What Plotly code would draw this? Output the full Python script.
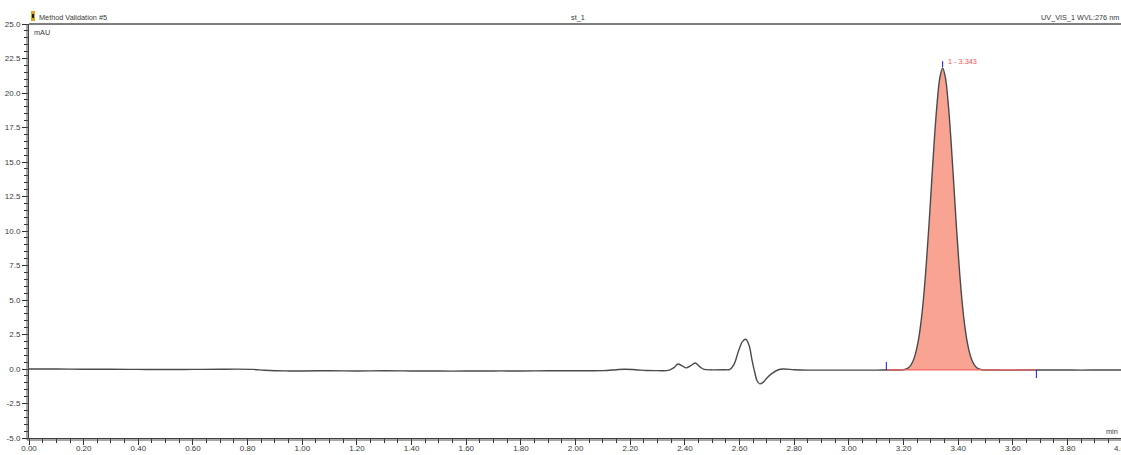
import plotly.graph_objects as go

# Chromatogram trace: retention time (min) and detector signal (mAU)
rt = [
    0.00, 0.10, 0.20, 0.30, 0.40, 0.50, 0.60, 0.70, 0.76, 0.82, 0.86, 0.90,
    0.95, 1.00, 1.10, 1.20, 1.30, 1.40, 1.50, 1.60, 1.70, 1.80, 1.90, 2.00,
    2.10, 2.15, 2.18, 2.22, 2.26, 2.30, 2.34, 2.36, 2.375, 2.39, 2.405, 2.42,
    2.438, 2.455, 2.47, 2.50, 2.54, 2.565, 2.58, 2.597, 2.611, 2.623, 2.635,
    2.645, 2.655, 2.664, 2.674, 2.687, 2.70, 2.72, 2.74, 2.76, 2.80, 2.85,
    2.90, 3.00, 3.10, 3.137, 3.170, 3.199, 3.213, 3.223, 3.233, 3.243, 3.253,
    3.263, 3.273, 3.283, 3.293, 3.303, 3.313, 3.323, 3.333, 3.343, 3.353,
    3.363, 3.373, 3.383, 3.393, 3.403, 3.413, 3.423, 3.433, 3.443, 3.453,
    3.463, 3.473, 3.487, 3.520, 3.560, 3.600, 3.650, 3.686, 3.750, 3.850,
    3.950, 4.000,
]
signal = [
    0.00, 0.00, -0.02, -0.02, -0.03, -0.04, -0.03, -0.02, -0.01, -0.03, -0.09, -0.13,
    -0.14, -0.14, -0.13, -0.14, -0.13, -0.14, -0.15, -0.15, -0.14, -0.14, -0.13, -0.13,
    -0.12, -0.05, -0.02, -0.05, -0.11, -0.12, -0.10, 0.10, 0.36, 0.22, 0.08, 0.22,
    0.43, 0.15, -0.03, -0.06, -0.05, -0.03, 0.35, 1.35, 2.00, 2.15, 1.70,
    0.70, -0.20, -0.85, -1.08, -0.95, -0.65, -0.30, -0.07, 0.00, -0.05, -0.08,
    -0.08, -0.08, -0.08, -0.07, -0.07, -0.05, 0.02, 0.19, 0.51, 1.06, 1.94,
    3.27, 5.13, 7.55, 10.43, 13.63, 16.73, 19.33, 21.13, 21.80, 21.13,
    19.33, 16.73, 13.63, 10.43, 7.55, 5.13, 3.27, 1.94, 1.06, 0.51,
    0.19, 0.02, -0.05, -0.07, -0.08, -0.08, -0.07, -0.07, -0.07, -0.08,
    -0.07, -0.07,
]

# Integrated peak
peak_no = 1
peak_rt = 3.343
peak_height = 21.80
peak_start, peak_end = 3.137, 3.686
peak_base = -0.07

# Axis ticks
x_ticks = [0.00, 0.20, 0.40, 0.60, 0.80, 1.00, 1.20, 1.40, 1.60, 1.80, 2.00,
           2.20, 2.40, 2.60, 2.80, 3.00, 3.20, 3.40, 3.60, 3.80, 4.00]
x_labels = ["0.00", "0.20", "0.40", "0.60", "0.80", "1.00", "1.20", "1.40",
            "1.60", "1.80", "2.00", "2.20", "2.40", "2.60", "2.80", "3.00",
            "3.20", "3.40", "3.60", "3.80", "4.00"]
y_ticks = [-5.0, -2.5, 0.0, 2.5, 5.0, 7.5, 10.0, 12.5, 15.0, 17.5, 20.0, 22.5, 25.0]
y_labels = ["-5.0", "-2.5", "0.0", "2.5", "5.0", "7.5", "10.0", "12.5",
            "15.0", "17.5", "20.0", "22.5", "25.0"]

W, H = 1121, 455
L, R, T, B = 29, 0, 24, 17
PW, PH = W - L - R, H - T - B
PX_PER_MIN = 273.3
X_MAX = PW / PX_PER_MIN
FONT = "Liberation Sans"
TXT = "#3a3a3a"


def px(x):
    return (x - L) / PW


def py(y):
    return (H - B - y) / PH


fig = go.Figure()

# area under the integrated peak
seg_x = [t for t in rt if peak_start <= t <= peak_end]
seg_y = [s for t, s in zip(rt, signal) if peak_start <= t <= peak_end]
fig.add_trace(go.Scatter(x=[peak_start, peak_end], y=[peak_base, peak_base],
                         mode="lines", line=dict(width=0), hoverinfo="skip"))
fig.add_trace(go.Scatter(x=seg_x, y=seg_y, mode="lines", line=dict(width=0, shape="spline"),
                         fill="tonexty", fillcolor="#F9A393", hoverinfo="skip"))

# chromatogram
fig.add_trace(go.Scatter(x=rt, y=signal, mode="lines",
                         line=dict(color="#4a4a4a", width=1.4, shape="spline")))

# integration baseline
fig.add_trace(go.Scatter(x=[peak_start, peak_end], y=[peak_base, peak_base], mode="lines",
                         line=dict(color="#F26565", width=1.2), hoverinfo="skip"))

shapes = [
    # frame: top edge and the doubled left/bottom axis lines
    dict(type="line", xref="paper", yref="paper", x0=0, x1=1, y0=1, y1=1,
         line=dict(color="#000000", width=1)),
    dict(type="line", xref="paper", yref="paper", x0=px(27), x1=px(27), y0=py(440), y1=1,
         line=dict(color="#505050", width=1)),
    dict(type="line", xref="paper", yref="paper", x0=px(27), x1=1, y0=py(440), y1=py(440),
         line=dict(color="#505050", width=1)),
    # peak delimiters and apex marker
    dict(type="line", xref="x", yref="y", x0=peak_start, x1=peak_start,
         ysizemode="pixel", yanchor=peak_base, y0=0, y1=8, line=dict(color="#1010ff", width=1)),
    dict(type="line", xref="x", yref="y", x0=peak_end, x1=peak_end,
         ysizemode="pixel", yanchor=peak_base, y0=0, y1=-8, line=dict(color="#1010ff", width=1)),
    dict(type="line", xref="x", yref="y", x0=peak_rt, x1=peak_rt,
         ysizemode="pixel", yanchor=peak_height, y0=1, y1=7, line=dict(color="#1010ff", width=1)),
    # chromatogram icon
    dict(type="rect", xref="paper", yref="paper", x0=px(31), x1=px(35), y0=py(21), y1=py(11),
         fillcolor="#d9a520", line=dict(width=0)),
    dict(type="rect", xref="paper", yref="paper", x0=px(32), x1=px(34), y0=py(18), y1=py(14),
         fillcolor="#202020", line=dict(width=0)),
]

HEAD = dict(color=TXT, size=7.3, family=FONT)
annotations = [
    dict(text="Method Validation #5", xref="paper", yref="paper", x=px(37), y=1,
         xanchor="left", yanchor="bottom", font=HEAD),
    dict(text="st_1", xref="paper", yref="paper", x=px(578), y=1,
         xanchor="center", yanchor="bottom", font=HEAD),
    dict(text="UV_VIS_1 WVL:276 nm", xref="paper", yref="paper", x=1, y=1,
         xanchor="right", yanchor="bottom", font=HEAD),
    dict(text="mAU", xref="paper", yref="paper", x=px(32), y=1,
         xanchor="left", yanchor="top", yshift=-2, font=HEAD),
    dict(text="min", xref="paper", yref="paper", x=px(1120), y=py(431),
         xanchor="right", yanchor="middle", font=HEAD),
    # last time label sits on the right edge of the page
    dict(text=x_labels[-1], xref="paper", yref="paper",
         x=px(L + x_ticks[-1] * PX_PER_MIN), y=py(448.5),
         xanchor="center", yanchor="middle"),
    dict(text=f"{peak_no} - {peak_rt:.3f}", xref="x", yref="y", x=peak_rt, y=peak_height,
         xanchor="left", yanchor="middle", xshift=3, yshift=7,
         font=dict(color="#FF4D4D", size=7.3, family=FONT)),
]
for a in annotations:
    a.setdefault("showarrow", False)
    a.setdefault("font", dict(color=TXT, size=8, family=FONT))

fig.update_layout(
    width=W, height=H,
    margin=dict(l=L, r=R, t=T, b=B, pad=0),
    paper_bgcolor="white", plot_bgcolor="white",
    showlegend=False,
    font=dict(family=FONT, size=8, color=TXT),
    shapes=shapes, annotations=annotations,
    xaxis=dict(
        range=[0, X_MAX], automargin=False, showgrid=False, zeroline=False,
        showline=True, linecolor="#404040", linewidth=1,
        tickmode="array", tickvals=x_ticks[:-1], ticktext=x_labels[:-1],
        ticks="outside", ticklen=6, tickcolor="#303030", tickwidth=1,
        ticklabelstandoff=-4,
        tickfont=dict(size=8, family=FONT, color=TXT),
        minor=dict(tickmode="linear", tick0=0, dtick=0.05, ticks="outside",
                   ticklen=4, tickcolor="#303030", showgrid=False),
    ),
    yaxis=dict(
        range=[-5, 25], automargin=False, showgrid=False, zeroline=False,
        showline=True, linecolor="#404040", linewidth=1,
        tickmode="array", tickvals=y_ticks, ticktext=y_labels,
        ticks="outside", ticklen=6, tickcolor="#303030", tickwidth=1,
        tickfont=dict(size=8, family=FONT, color=TXT),
        minor=dict(tickmode="linear", tick0=0, dtick=0.5, ticks="outside",
                   ticklen=4, tickcolor="#303030", showgrid=False),
    ),
)

fig.write_html("out.html")
